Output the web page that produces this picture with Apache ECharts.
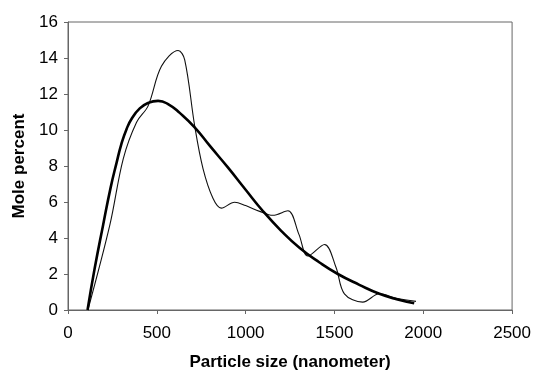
<!DOCTYPE html>
<html>
<head>
<meta charset="utf-8">
<script src="https://cdn.jsdelivr.net/npm/echarts@6/dist/echarts.min.js"></script>
<style>html,body{margin:0;padding:0;background:#fff;}#c{width:534px;height:376px;}</style>
</head>
<body>
<div id="c"></div>
<script>
// Thick curve: fitted distribution
var fitX = [110, 150, 198, 240, 274, 300, 330, 360, 404, 450, 507, 570, 629, 713, 800, 900, 1000, 1097, 1200, 1303, 1416, 1519, 1640, 1753, 1850, 1949];
var fitY = [0, 2.3, 4.74, 6.8, 8.2, 9.2, 10.06, 10.65, 11.2, 11.5, 11.62, 11.4, 10.95, 10.15, 9.1, 7.92, 6.68, 5.5, 4.4, 3.46, 2.64, 2.0, 1.4, 0.9, 0.6, 0.38];
// Thin curve: measured distribution
var measX = [112, 236, 311, 386, 451, 526, 620, 657, 713, 760, 816, 863, 938, 1000, 1079, 1153, 1238, 1300, 1350, 1444, 1509, 1556, 1659, 1753, 1850, 1959];
var measY = [0, 4.74, 8.4, 10.43, 11.34, 13.54, 14.42, 13.9, 10.24, 7.86, 6.21, 5.66, 5.99, 5.8, 5.48, 5.26, 5.51, 4.2, 3.0, 3.64, 2.36, 0.9, 0.44, 0.9, 0.65, 0.48];
var xTicks = [0, 500, 1000, 1500, 2000, 2500];
var yTicks = [0, 2, 4, 6, 8, 10, 12, 14, 16];

function pairs(xs, ys) { return xs.map(function (x, i) { return [x, ys[i]]; }); }

var chart = echarts.init(document.getElementById('c'), null, {renderer: 'canvas'});
var font = '"Liberation Sans", Arial, sans-serif';
chart.setOption({
  animation: false,
  backgroundColor: '#fff',
  grid: {left: 68, right: 21, top: 22, bottom: 63, show: true, borderColor: '#666', borderWidth: 1, backgroundColor: 'transparent'},
  xAxis: {
    type: 'value', min: xTicks[0], max: xTicks[xTicks.length - 1], interval: 500,
    name: 'Particle size (nanometer)', nameLocation: 'middle', nameGap: 44,
    nameTextStyle: {fontFamily: font, fontSize: 17, fontWeight: 'bold', color: '#000'},
    axisLine: {show: true, lineStyle: {color: '#666', width: 1}},
    axisTick: {show: true, inside: false, length: 4, lineStyle: {color: '#666'}},
    axisLabel: {fontFamily: font, fontSize: 17, color: '#000', margin: 15, formatter: function (v) { return String(v); }},
    splitLine: {show: false}
  },
  yAxis: {
    type: 'value', min: yTicks[0], max: yTicks[yTicks.length - 1], interval: 2,
    name: 'Mole percent', nameLocation: 'middle', nameGap: 40,
    nameTextStyle: {fontFamily: font, fontSize: 17, fontWeight: 'bold', color: '#000'},
    axisLine: {show: true, lineStyle: {color: '#666', width: 1}},
    axisTick: {show: true, inside: false, length: 4, lineStyle: {color: '#666'}},
    axisLabel: {fontFamily: font, fontSize: 17, color: '#000', margin: 10},
    splitLine: {show: false}
  },
  series: [
    {type: 'line', data: pairs(measX, measY), smooth: 0.35, symbol: 'none',
     lineStyle: {color: '#111', width: 1.1}},
    {type: 'line', data: pairs(fitX, fitY), smooth: 0.5, symbol: 'none',
     lineStyle: {color: '#000', width: 2.6}}
  ]
});
</script>
</body>
</html>
